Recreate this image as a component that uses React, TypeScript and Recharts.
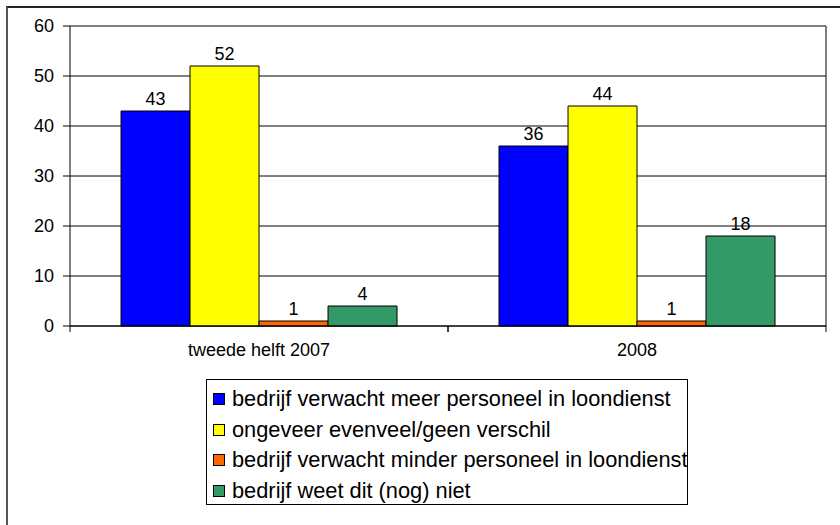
import React from "react";
import {
  BarChart,
  Bar,
  XAxis,
  YAxis,
  CartesianGrid,
  Legend,
  LabelList,
} from "recharts";

const FONT = "'Liberation Sans', Arial, sans-serif";

const categories = ["tweede helft 2007", "2008"];
const meerPersoneel = [43, 36];
const evenveel = [52, 44];
const minderPersoneel = [1, 1];
const weetNiet = [4, 18];
const yTicks = [0, 10, 20, 30, 40, 50, 60];

const SERIES = [
  { key: "meer", name: "bedrijf verwacht meer personeel in loondienst", color: "#0000FF", values: meerPersoneel },
  { key: "evenveel", name: "ongeveer evenveel/geen verschil", color: "#FFFF00", values: evenveel },
  { key: "minder", name: "bedrijf verwacht minder personeel in loondienst", color: "#FF6600", values: minderPersoneel },
  { key: "weet", name: "bedrijf weet dit (nog) niet", color: "#339966", values: weetNiet },
];

const data = categories.map((name, i) => {
  const row: Record<string, string | number> = { name };
  SERIES.forEach((s) => (row[s.key] = s.values[i]));
  return row;
});

// category label plus Excel-style tick marks at the category edges
function CategoryTick(props: any) {
  const { x, y, payload, width, visibleTicksCount } = props;
  const half = width && visibleTicksCount ? width / visibleTicksCount / 2 : 0;
  const axisY = y - 6;
  return (
    <g>
      <line x1={x - half} x2={x - half} y1={axisY} y2={axisY + 6} stroke="#000" />
      <line x1={x + half} x2={x + half} y1={axisY} y2={axisY + 6} stroke="#000" />
      <text x={x} y={axisY + 30} textAnchor="middle" fontSize={18} fontFamily={FONT} fill="#000">
        {payload.value}
      </text>
    </g>
  );
}

function BoxLegend({ payload }: any) {
  // keep the series order (the default legend sorts by name)
  const order = SERIES.map((s) => s.name);
  const items = [...(payload || [])].sort(
    (a: any, b: any) => order.indexOf(a.value) - order.indexOf(b.value)
  );
  return (
    <div
      style={{
        boxSizing: "border-box",
        width: 482,
        height: 126,
        border: "1px solid #000",
        background: "#fff",
        padding: "4px 0 0 6px",
        fontFamily: FONT,
        fontSize: 21.8,
        color: "#000",
        whiteSpace: "nowrap",
      }}
    >
      {items.map((p: any) => (
        <div key={p.value} style={{ display: "flex", alignItems: "center", height: 30.5 }}>
          <span
            style={{
              display: "inline-block",
              flexShrink: 0,
              boxSizing: "border-box",
              width: 12,
              height: 12,
              background: p.color,
              border: "1px solid #000",
              marginRight: 7,
            }}
          />
          <span style={{ flexShrink: 0 }}>{p.value}</span>
        </div>
      ))}
    </div>
  );
}

export default function App() {
  return (
    <div
      style={{
        position: "absolute",
        left: 6,
        top: 6,
        width: 832,
        height: 517,
        borderLeft: "2px solid #555",
        borderTop: "2px solid #222",
        background: "#fff",
      }}
    >
      <BarChart
        width={832}
        height={517}
        data={data}
        margin={{ top: 18, right: 14, left: 0, bottom: 20 }}
        barCategoryGap="13.5%"
        barGap={0}
      >
        <CartesianGrid
          stroke="#000"
          verticalCoordinatesGenerator={({ offset }: any) => [offset.left + offset.width]}
        />
        <XAxis
          dataKey="name"
          height={53}
          tickLine={false}
          tickSize={6}
          tickMargin={0}
          axisLine={{ stroke: "#000" }}
          tick={<CategoryTick />}
          interval={0}
        />
        <YAxis
          width={62}
          domain={[0, 60]}
          ticks={yTicks}
          interval={0}
          tickSize={7}
          tickMargin={9}
          axisLine={{ stroke: "#000" }}
          tickLine={{ stroke: "#000" }}
          tick={{ fontSize: 18, fill: "#000", fontFamily: FONT }}
        />
        <Legend
          verticalAlign="bottom"
          content={<BoxLegend />}
          wrapperStyle={{ left: 198, width: 482 }}
        />
        {SERIES.map((s) => (
          <Bar
            key={s.key}
            dataKey={s.key}
            name={s.name}
            fill={s.color}
            stroke="#000"
            strokeWidth={1}
            isAnimationActive={false}
          >
            <LabelList
              dataKey={s.key}
              position="top"
              offset={6}
              fontSize={18}
              fontFamily={FONT}
              fill="#000"
            />
          </Bar>
        ))}
      </BarChart>
    </div>
  );
}
